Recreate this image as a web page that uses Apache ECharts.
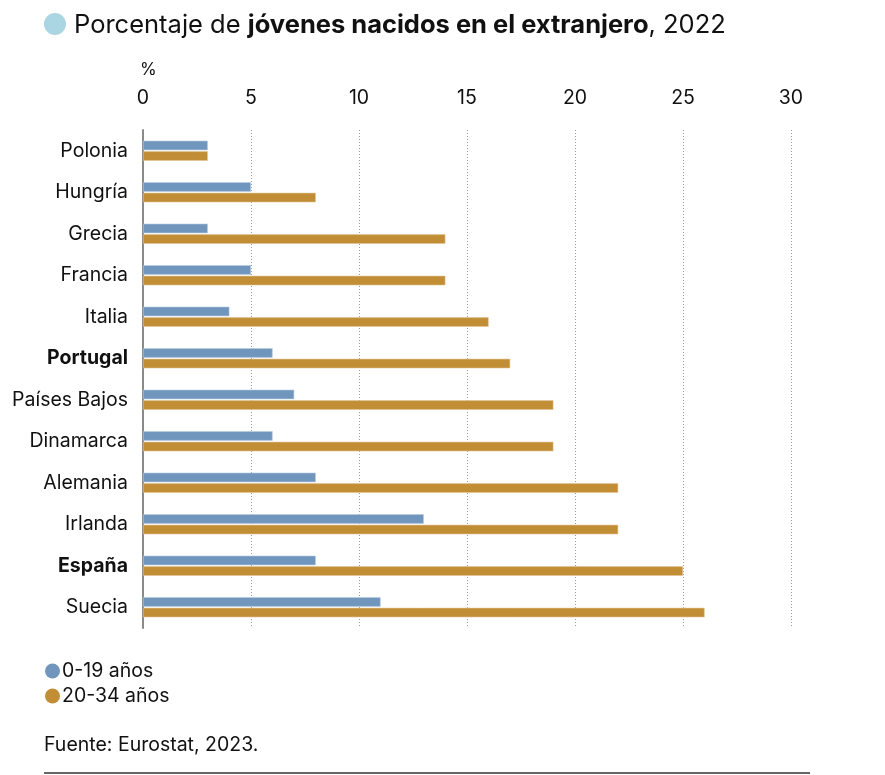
<!DOCTYPE html>
<html>
<head>
<meta charset="utf-8">
<script src="https://cdn.jsdelivr.net/npm/echarts@6/dist/echarts.min.js"></script>
<style>
  html, body { margin: 0; padding: 0; background: #fff; }
  #chart { width: 885px; height: 775px; }
</style>
</head>
<body>
<div id="chart"></div>
<script>
const countries = ['Polonia', 'Hungría', 'Grecia', 'Francia', 'Italia', 'Portugal', 'Países Bajos', 'Dinamarca', 'Alemania', 'Irlanda', 'España', 'Suecia'];
const youngKids = [3, 5, 3, 5, 4, 6, 7, 6, 8, 13, 8, 11];
const youngAdults = [3, 8, 14, 14, 16, 17, 19, 19, 22, 22, 25, 26];
const seriesNames = ['0-19 años', '20-34 años'];
const highlighted = ['Portugal', 'España'];
const xTicks = [0, 5, 10, 15, 20, 25, 30];

const FONT = 'Inter, "Noto Sans", sans-serif';
const chart = echarts.init(document.getElementById('chart'));

const option = {
  backgroundColor: '#fff',
  textStyle: { fontFamily: FONT },
  title: {
    left: 69,
    top: 7,
    text: '{r|Porcentaje de }{b|jóvenes nacidos en el extranjero}{r|, 2022}',
    textStyle: {
      rich: {
        r: { fontFamily: FONT, fontSize: 25.5, color: '#111', fontWeight: 400 },
        b: { fontFamily: FONT, fontSize: 25.5, color: '#111', fontWeight: 700 }
      }
    }
  },
  legend: {
    data: seriesNames,
    orient: 'vertical',
    left: 40,
    top: 656,
    icon: 'circle',
    itemWidth: 15,
    itemHeight: 15,
    itemGap: 5,
    itemStyle: { borderWidth: 0 },
    textStyle: { fontFamily: FONT, fontSize: 19.5, color: '#111', padding: [0, 0, 0, -3] }
  },
  grid: {
    left: 143,
    top: 130,
    width: 648,
    height: 498
  },
  xAxis: {
    type: 'value',
    position: 'top',
    min: 0,
    max: 30,
    interval: 5,
    axisLine: { show: false },
    axisTick: { show: false },
    axisLabel: {
      margin: 22,
      fontFamily: FONT,
      fontSize: 19.5,
      color: '#111',
      formatter: function (v) { return xTicks.indexOf(v) >= 0 ? String(v) : ''; }
    },
    splitLine: {
      lineStyle: { color: '#9a9a9a', type: [1, 2], width: 1 }
    }
  },
  yAxis: {
    type: 'category',
    inverse: true,
    data: countries,
    axisLine: { show: true, lineStyle: { color: '#8a8a8a', width: 2 } },
    axisTick: { show: false },
    axisLabel: {
      margin: 15,
      fontFamily: FONT,
      fontSize: 19.5,
      color: '#111',
      formatter: function (v) {
        return highlighted.indexOf(v) >= 0 ? '{b|' + v + '}' : v;
      },
      rich: {
        b: { fontFamily: FONT, fontSize: 19.5, fontWeight: 700, color: '#111' }
      }
    }
  },
  series: [
    {
      name: seriesNames[0],
      type: 'bar',
      data: youngKids,
      barWidth: 9.5,
      barGap: '12%',
      itemStyle: { color: '#7196bd', borderColor: '#b8cde2', borderWidth: 0.6 }
    },
    {
      name: seriesNames[1],
      type: 'bar',
      data: youngAdults,
      barWidth: 9.5,
      barGap: '12%',
      itemStyle: { color: '#c18d35', borderColor: '#e2c595', borderWidth: 0.6 }
    }
  ],
  graphic: [
    { type: 'circle', shape: { cx: 55, cy: 24, r: 11 }, style: { fill: '#a9d6e2' } },
    { type: 'text', left: 140, top: 61, style: { text: '%', font: '17px ' + FONT, fill: '#111' } },
    { type: 'text', left: 44, top: 735, style: { text: 'Fuente: Eurostat, 2023.', font: '19.5px ' + FONT, fill: '#111' } },
    { type: 'line', shape: { x1: 44, y1: 773, x2: 810, y2: 773 }, style: { stroke: '#333', lineWidth: 1.5 } }
  ]
};

chart.setOption(option);
</script>
</body>
</html>
